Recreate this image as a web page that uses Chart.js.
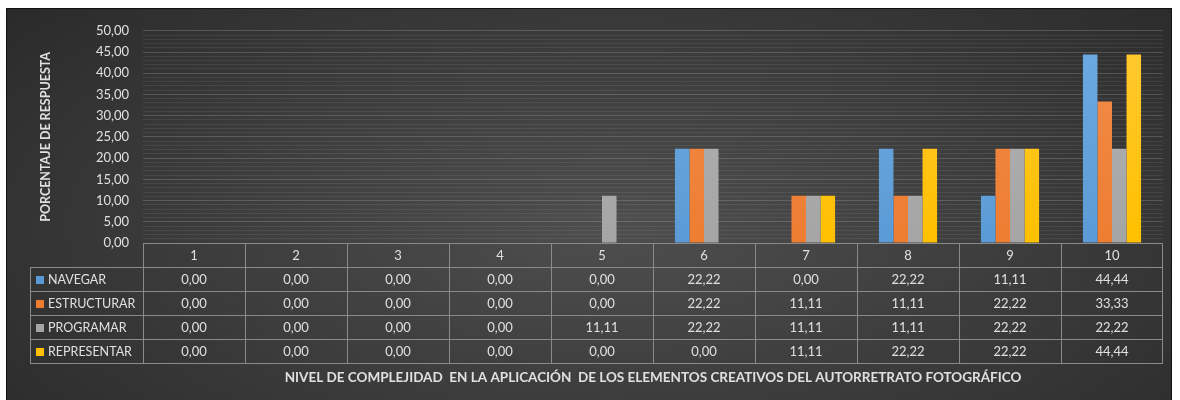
<!DOCTYPE html>
<html>
<head>
<meta charset="utf-8">
<title>Nivel de complejidad</title>
<script src="https://cdn.jsdelivr.net/npm/chart.js@4.4.1/dist/chart.umd.min.js"></script>
<style>
  html, body { margin: 0; padding: 0; background: #fff; width: 1180px; height: 400px; overflow: hidden; }
  #panel {
    position: absolute; left: 6px; top: 8px; width: 1166px; height: 400px;
    box-sizing: border-box; border: 1px solid #111;
    background: radial-gradient(ellipse 75% 95% at 52% 55%, #4e4e4e 0%, #3d3d3d 45%, #262626 100%);
  }
  #wrap { position: absolute; left: 0; top: 0; width: 1164px; height: 398px; }
</style>
</head>
<body>
<div id="panel"><div id="wrap"><canvas id="nivelChart"></canvas></div></div>
<script>
'use strict';

// ─── Data ─────────────────────────────────────────────────────
const niveles     = ['1','2','3','4','5','6','7','8','9','10'];
const navegar     = [0, 0, 0, 0, 0,     22.22, 0,     22.22, 11.11, 44.44];
const estructurar = [0, 0, 0, 0, 0,     22.22, 11.11, 11.11, 22.22, 33.33];
const programar   = [0, 0, 0, 0, 11.11, 22.22, 11.11, 11.11, 22.22, 22.22];
const representar = [0, 0, 0, 0, 0,     0,     11.11, 22.22, 22.22, 44.44];
const yMax  = 50;
const yStep = 5;

const FONT  = 'Lato, "Open Sans", sans-serif';
const TEXT  = '#e0e0e0';
const LINE  = '#8a8a8a';

const series = [
  { label: 'NAVEGAR',     data: navegar,     color: '#5b9bd5', top: '#6eaae2' },
  { label: 'ESTRUCTURAR', data: estructurar, color: '#ed7d31', top: '#f38d4c' },
  { label: 'PROGRAMAR',   data: programar,   color: '#a5a5a5', top: '#b3b3b3' },
  { label: 'REPRESENTAR', data: representar, color: '#ffc000', top: '#ffc933' },
];

const fmt = v => v.toFixed(2).replace('.', ',');

// ─── Bar gradient (lighter at top) ────────────────────────────
function barFill(s) {
  return ctx => {
    const area = ctx.chart.chartArea;
    if (!area) return s.color;
    const g = ctx.chart.ctx.createLinearGradient(0, area.top, 0, area.bottom);
    g.addColorStop(0, s.top);
    g.addColorStop(1, s.color);
    return g;
  };
}

// ─── Data table under the plot ────────────────────────────────
const dataTable = {
  id: 'dataTable',
  afterDraw(chart) {
    const { ctx, chartArea: a, scales: { x } } = chart;
    const rowH   = 24;
    const labelL = 23;
    const half   = (x.getPixelForValue(1) - x.getPixelForValue(0)) / 2;
    const top    = a.bottom;
    const bottom = top + rowH * (series.length + 1);

    ctx.save();
    ctx.strokeStyle = LINE;
    ctx.lineWidth = 1;
    ctx.beginPath();
    // horizontal lines
    ctx.moveTo(a.left, top + 0.5); ctx.lineTo(a.right, top + 0.5);
    for (let r = 1; r <= series.length + 1; r++) {
      const y = Math.round(top + r * rowH) + 0.5;
      ctx.moveTo(labelL, y); ctx.lineTo(a.right, y);
    }
    // vertical lines
    ctx.moveTo(labelL + 0.5, top + rowH); ctx.lineTo(labelL + 0.5, bottom);
    niveles.forEach((n, i) => {
      const xl = Math.round(x.getPixelForValue(i) - half) + 0.5;
      ctx.moveTo(xl, top); ctx.lineTo(xl, bottom);
    });
    ctx.moveTo(Math.round(a.right) - 0.5, top); ctx.lineTo(Math.round(a.right) - 0.5, bottom);
    ctx.stroke();

    ctx.fillStyle = TEXT;
    ctx.font = '13px ' + FONT;
    ctx.textBaseline = 'middle';
    ctx.textAlign = 'center';
    niveles.forEach((n, i) => ctx.fillText(n, x.getPixelForValue(i), top + rowH / 2 + 1));

    series.forEach((s, r) => {
      const yc = top + rowH * (r + 1) + rowH / 2 + 1;
      ctx.fillStyle = s.color;
      ctx.fillRect(labelL + 6, yc - 4, 8, 8);
      ctx.fillStyle = TEXT;
      ctx.textAlign = 'left';
      ctx.font = '12.5px ' + FONT;
      ctx.fillText(s.label, labelL + 18, yc);
      ctx.textAlign = 'center';
      ctx.font = '13px ' + FONT;
      s.data.forEach((v, i) => ctx.fillText(fmt(v), x.getPixelForValue(i), yc));
    });
    ctx.restore();
  }
};

// ─── Chart ────────────────────────────────────────────────────
new Chart(document.getElementById('nivelChart'), {
  type: 'bar',
  data: {
    labels: niveles,
    datasets: series.map(s => ({
      label: s.label,
      data: s.data,
      backgroundColor: barFill(s),
      borderWidth: 0,
      barPercentage: 1,
      categoryPercentage: 0.57,
    }))
  },
  options: {
    responsive: true,
    maintainAspectRatio: false,
    animation: false,
    layout: { padding: { left: 0, top: 18, right: 8, bottom: 0 } },
    plugins: { legend: { display: false }, tooltip: { enabled: false } },
    scales: {
      x: {
        grid: { display: false, drawTicks: false },
        border: { display: false },
        ticks: { display: false },
        title: {
          display: true,
          text: 'NIVEL DE COMPLEJIDAD  EN LA APLICACIÓN  DE LOS ELEMENTOS CREATIVOS DEL AUTORRETRATO FOTOGRÁFICO',
          color: TEXT,
          font: { family: FONT, size: 13.5, weight: 'bold' },
          padding: { top: 0, bottom: 21 },
        },
        afterFit: s => { s.height = 398 - 234; },
      },
      y: {
        min: 0,
        max: yMax,
        grid: {
          drawTicks: false,
          color: c => (c.tick.value % yStep === 0 ? 'rgba(255,255,255,0.17)' : 'rgba(255,255,255,0.075)'),
        },
        border: { display: false },
        ticks: {
          stepSize: 1,
          autoSkip: false,
          padding: 14,
          color: TEXT,
          font: { family: FONT, size: 13 },
          callback: v => (v % yStep === 0 ? fmt(v) : ''),
        },
        title: {
          display: true,
          text: 'PORCENTAJE DE RESPUESTA',
          color: TEXT,
          font: { family: FONT, size: 12.5, weight: 'bold' },
          padding: { top: 31, bottom: 0 },
        },
        afterFit: s => { s.width = 136; },
      }
    }
  },
  plugins: [dataTable]
});
</script>
</body>
</html>
